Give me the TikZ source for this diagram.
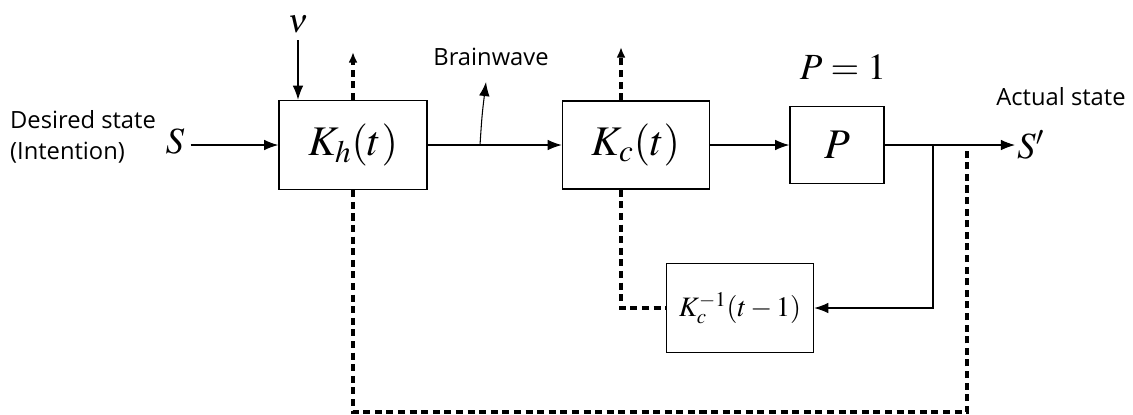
\documentclass[tikz,border=0pt]{standalone}
\usepackage{mathptmx}
\usepackage{fontspec}
\setmainfont{Open Sans}
\usetikzlibrary{arrows.meta}

\tikzset{
    block/.style={draw,line width=0.9pt,inner sep=0pt},
    sig/.style={line width=0.6pt,-{Latex[length=8pt,width=6pt]}},
    fb/.style={line width=1.8pt,dash pattern=on 4pt off 2.6pt},
    fbtip/.style={-{Latex[length=6pt,width=5pt]}},
    lbl/.style={font=\fontsize{13.5}{18}\selectfont,inner sep=0pt}
}

\begin{document}
\begin{tikzpicture}[x=0.02cm,y=-0.02cm]
    \useasboundingbox (0,0) rectangle (1133,414);
    \node[block,minimum width=2.96cm,minimum height=1.78cm,font=\fontsize{24}{28}\selectfont] (kh) at (353,145) {$K_h(t)$};
    \node[block,minimum width=2.94cm,minimum height=1.76cm,font=\fontsize{24}{28}\selectfont] (kc) at (636,145) {$K_c(t)$};
    \node[block,minimum width=1.88cm,minimum height=1.54cm,font=\fontsize{24}{28}\selectfont] (p) at (837,145) {$P$};
    \node[block,minimum width=2.94cm,minimum height=1.78cm,font=\fontsize{16}{20}\selectfont] (kinv) at (740,308) {$K_c^{-1}(t-1)$};
    \node[font=\fontsize{21}{25}\selectfont] (pone) at (843,67) {$P=1$};
    \node[font=\fontsize{21}{25}\selectfont] (s) at (175,141) {$S$};
    \node[font=\fontsize{21}{25}\selectfont,anchor=west,inner sep=1pt] (sout) at (1015,145) {$S'$};
    \node[font=\fontsize{19}{22}\selectfont,inner sep=0pt] (nu) at (298,24) {$\nu$};
    \node[lbl,align=left] (des) at (83,137) {Desired state\\(Intention)};
    \node[lbl] (act) at (1061,97) {Actual state};
    \node[lbl] (bw) at (491,57) {Brainwave};
    \coordinate (nuin) at (298,40);
    \coordinate (tap) at (933,145);
    \coordinate (khup) at (353,52);
    \coordinate (kcup) at (621,47);
    \coordinate (bwtip) at (486,82);
    \coordinate (bwfoot) at (480,145);
    \coordinate (botl) at (353,412);
    \coordinate (botr) at (967,412);
    \coordinate (retop) at (967,148);
    \draw[sig] (s.east |- kh) -- (kh);
    \draw[sig] (nuin) -- (nuin |- kh.north);
    \draw[sig] (kh) -- (kc);
    \draw[sig] (kc) -- (p);
    \draw[sig] (p) -- (sout);
    \draw[sig] (tap) |- (kinv.east);
    \draw[sig] (bwfoot) .. controls (482,115) .. (bwtip);
    \draw[fb,fbtip] (kh.north) -- (khup);
    \draw[fb,fbtip] (kcup |- kc.north) -- (kcup);
    \draw[fb] (kcup |- kc.south) |- (kinv.west);
    \draw[fb] (kh.south) -- (botl) -- (botr) -- (retop);
\end{tikzpicture}
\end{document}
